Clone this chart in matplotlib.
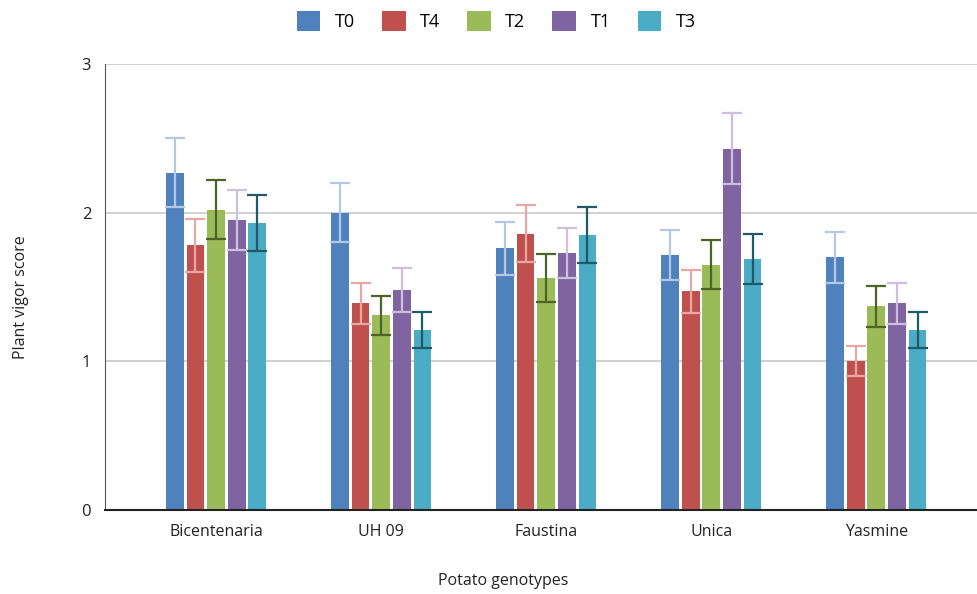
import numpy as np
import matplotlib
matplotlib.use("Agg")
import matplotlib.pyplot as plt

plt.rcParams['font.family'] = ['Open Sans', 'DejaVu Sans']

genotypes = ['Bicentenaria', 'UH 09', 'Faustina', 'Unica', 'Yasmine']
treatments = ['T0', 'T4', 'T2', 'T1', 'T3']

means = {
    'T0': [2.27, 2.00, 1.76, 1.715, 1.70],
    'T4': [1.78, 1.39, 1.86, 1.47, 1.00],
    'T2': [2.02, 1.31, 1.56, 1.65, 1.37],
    'T1': [1.95, 1.48, 1.73, 2.43, 1.39],
    'T3': [1.93, 1.21, 1.85, 1.69, 1.21],
}
errors = {
    'T0': [0.23, 0.20, 0.18, 0.17, 0.17],
    'T4': [0.18, 0.14, 0.19, 0.145, 0.10],
    'T2': [0.20, 0.13, 0.16, 0.165, 0.14],
    'T1': [0.20, 0.15, 0.17, 0.24, 0.14],
    'T3': [0.19, 0.12, 0.19, 0.17, 0.12],
}

bar_colors = {'T0': '#4F81BD', 'T4': '#C0504D', 'T2': '#9BBB59', 'T1': '#8064A2', 'T3': '#4BACC6'}
err_colors = {'T0': '#B4C8E6', 'T4': '#E8A6A4', 'T2': '#4F6228', 'T1': '#CDBFE0', 'T3': '#215968'}

fig = plt.figure(figsize=(9.77, 5.94), dpi=100)
ax = fig.add_axes([0.1075, 0.1414, 0.8925, 0.7508])

x = np.arange(len(genotypes))
pitch = 0.125
width = 0.108
for i, t in enumerate(treatments):
    pos = x + (i - 2) * pitch
    ax.bar(pos, means[t], width=width, color=bar_colors[t], label=t, zorder=2)
    ax.errorbar(pos, means[t], yerr=errors[t], fmt='none', ecolor=err_colors[t],
                elinewidth=1.6, capsize=7.2, capthick=1.6, zorder=3)

ax.set_xlim(-0.673, 4.61)
ax.set_ylim(0, 3)
ax.set_yticks([0, 1, 2, 3])
ax.set_xticks(x)
ax.set_xticklabels(genotypes, fontsize=11.5, color='#222222')
ax.tick_params(axis='y', labelsize=12, colors='#222222', length=0, pad=10)
ax.tick_params(axis='x', length=0, pad=10)
ax.yaxis.grid(True, color='#C8C8C8', linewidth=1.2, zorder=0)
ax.set_axisbelow(True)
for s in ['top', 'right']:
    ax.spines[s].set_visible(False)
ax.spines['left'].set_color('#555555')
ax.spines['bottom'].set_color('#222222')
ax.spines['bottom'].set_linewidth(1.5)

fig.text(0.022, 0.5, 'Plant vigor score', rotation=90, va='center', ha='center',
         fontsize=11.5, color='#222222')
fig.text(0.515, 0.022, 'Potato genotypes', ha='center', va='center',
         fontsize=11.5, color='#222222')

fig.legend(loc='center', bbox_to_anchor=(0.508, 0.965), ncol=5, frameon=False,
           fontsize=13, handlelength=1.3, handleheight=1.3, columnspacing=1.5,
           handletextpad=0.8)

plt.savefig('out.png', dpi=100)
